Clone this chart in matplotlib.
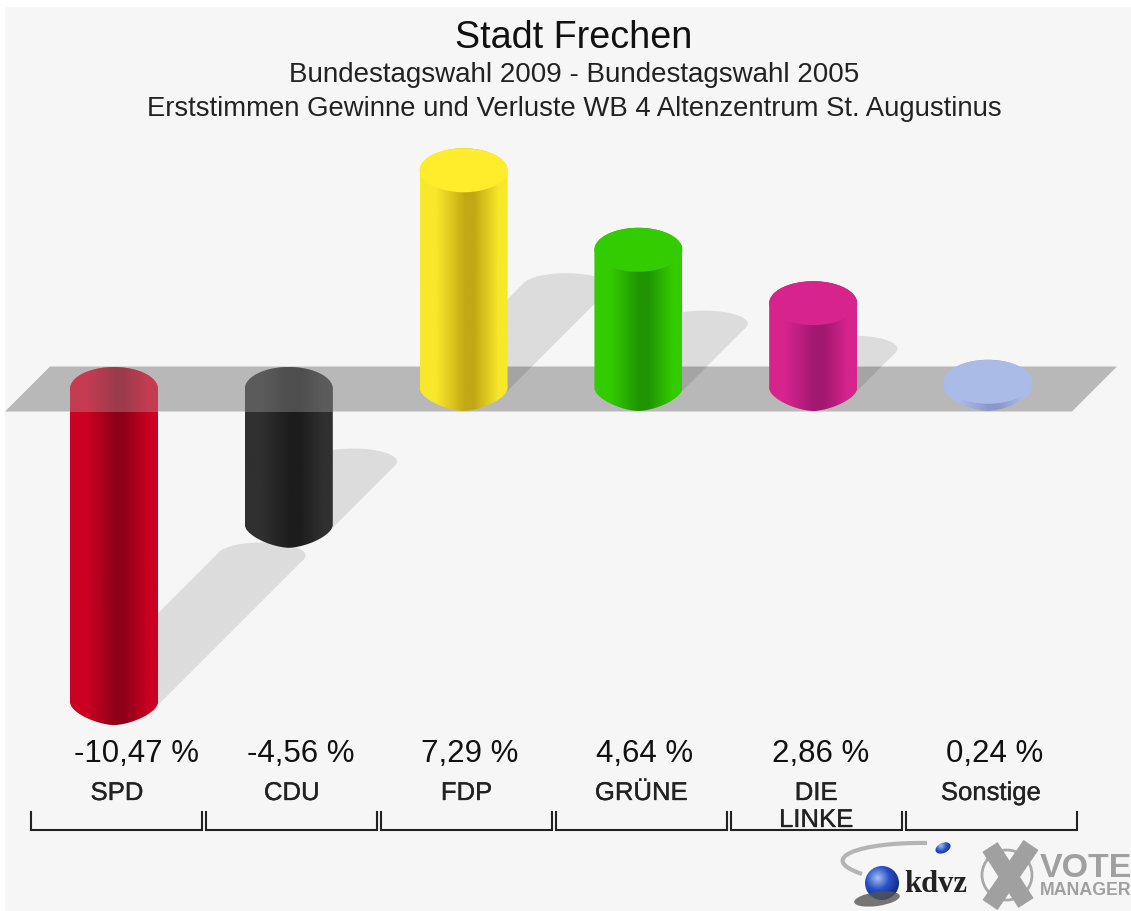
import numpy as np
import matplotlib
matplotlib.use('Agg')
import matplotlib.pyplot as plt
import matplotlib.patheffects as pe
from matplotlib.colors import LinearSegmentedColormap
from matplotlib.patches import Polygon, Rectangle, Ellipse, PathPatch, Circle
from matplotlib.path import Path

plt.rcParams['font.family'] = ['Liberation Sans', 'DejaVu Sans']

parties = ['SPD', 'CDU', 'FDP', 'GRÜNE', 'DIE\nLINKE', 'Sonstige']
changes = [-10.47, -4.56, 7.29, 4.64, 2.86, 0.24]
change_labels = ['-10,47 %', '-4,56 %', '7,29 %', '4,64 %', '2,86 %', '0,24 %']
light = ['#cc0022', '#303030', '#f8e82a', '#33cc00', '#d6248c', '#aabbe8']
dark = ['#8e0018', '#1c1c1c', '#c2a814', '#1f9400', '#a01870', '#8a98c8']
cap = ['#cc0022', '#303030', '#ffec2a', '#33cc00', '#d6248c', '#aabbe8']

title = 'Stadt Frechen'
subtitle1 = 'Bundestagswahl 2009 - Bundestagswahl 2005'
subtitle2 = 'Erststimmen Gewinne und Verluste WB 4 Altenzentrum St. Augustinus'

W, H = 1131, 911
PX_X = 174.8    # pixels per category
PX_Y = 30.0     # pixels per percent point
X0, Y0 = 114.0, 389.0
BAR_W = 44 / PX_X
BAR_H = 22 / PX_Y
SKEW = 0.47     # shadow shift per height
value_shift = [22, 12, 6, 6, 7, 7]


def bar_outline(x, y_top, y_bot, n=60, p=1.6):
    # flat ellipse on top, slightly pointed one below
    t = np.linspace(0, np.pi, n)
    top_x = x + BAR_W * np.cos(t)
    top_y = y_top + BAR_H * np.sin(t)
    u = np.linspace(-1, 1, n)
    bot_x = x + BAR_W * u
    bot_y = y_bot - BAR_H * (1 - np.abs(u) ** p) ** (1 / p)
    return Path(np.column_stack([np.r_[top_x, bot_x], np.r_[top_y, bot_y]]))


def add_shadow(ax, x, y_start, height):
    s = SKEW * height
    dx = s * PX_Y / PX_X
    h = 13 / PX_Y
    col = '#dcdcdc'
    ax.add_patch(Ellipse((x + dx, y_start + s), 2 * BAR_W, 2 * h, fc=col, ec='none', zorder=1))
    # tangent points of a 45 degree sweep
    a, b = 44.0, 13.0
    th = np.arctan2(-b, a)
    ox, oy = np.cos(th) * BAR_W, np.sin(th) * h
    pts = [(x + ox, y_start + oy), (x + ox + dx, y_start + oy + s),
           (x - ox + dx, y_start - oy + s), (x - ox, y_start - oy)]
    ax.add_patch(Polygon(pts, fc=col, ec='none', zorder=1))


fig = plt.figure(figsize=(W / 100, H / 100), dpi=100, facecolor='white')
fig.add_artist(Rectangle((5 / W, 0), 1, 1 - 7 / H, transform=fig.transFigure, fc='#f6f6f6', ec='none', zorder=-5))
ax = fig.add_axes([0, 0, 1, 1], facecolor='none')
ax.set_xlim(-X0 / PX_X, (W - X0) / PX_X)
ax.set_ylim(-(H - Y0) / PX_Y, Y0 / PX_Y)
ax.axis('off')

# shadows, the tiny bar hides its own
for i, v in enumerate(changes):
    if abs(v) > 0.5:
        add_shadow(ax, i, min(v, 0), abs(v))

# floor band
skew_x = 45 / PX_X
band_l = (5 - X0) / PX_X
band_r = (1072 - X0) / PX_X
ax.add_patch(Polygon([(band_l, -22.5 / PX_Y), (band_l + skew_x, 22.5 / PX_Y),
                      (band_r + skew_x, 22.5 / PX_Y), (band_r, -22.5 / PX_Y)],
                     fc='black', alpha=0.25, ec='none', zorder=2))

# cylinders
for i, v in enumerate(changes):
    cmap = LinearSegmentedColormap.from_list('c', [(0, light[i]), (0.18, light[i]), (0.52, dark[i]),
                                                   (0.62, dark[i]), (0.9, light[i]), (1, light[i])])
    outline = bar_outline(i, max(v, 0), min(v, 0))
    im = ax.imshow(np.linspace(0, 1, 128)[None, :], cmap=cmap, aspect='auto', zorder=3,
                   extent=[i - BAR_W, i + BAR_W, min(v, 0) - BAR_H, max(v, 0) + BAR_H])
    patch = PathPatch(outline, fc='none', ec='none', transform=ax.transData)
    ax.add_patch(patch)
    im.set_clip_path(patch)
    if v > 0:
        ax.add_patch(Ellipse((i, v), 2 * BAR_W, 2 * BAR_H, fc=cap[i], ec='none', zorder=4))
    else:
        veil = Rectangle((i - BAR_W, -22.5 / PX_Y), 2 * BAR_W, 45 / PX_Y, fc='#b9b9b9', alpha=0.32,
                         ec='none', zorder=4)
        ax.add_patch(veil)
        veil.set_clip_path(patch)
ax.set_xlim(-X0 / PX_X, (W - X0) / PX_X)
ax.set_ylim(-(H - Y0) / PX_Y, Y0 / PX_Y)

# text, brackets and logo in pixel space
ov = fig.add_axes([0, 0, 1, 1], facecolor='none')
ov.set_xlim(0, W)
ov.set_ylim(H, 0)
ov.axis('off')

ov.text(574, 48, title, ha='center', va='baseline', fontsize=27.2, color='#111111')
ov.text(574, 82, subtitle1, ha='center', va='baseline', fontsize=20, color='#222222')
ov.text(574, 116, subtitle2, ha='center', va='baseline', fontsize=19.85, color='#222222')

thick = [pe.withStroke(linewidth=0.25, foreground='#222222')]
for i in range(len(parties)):
    cx = X0 + i * PX_X
    ov.text(cx + value_shift[i], 762, change_labels[i], ha='center', va='baseline',
            fontsize=22.5, color='#111111')
    lines = parties[i].split('\n')
    ov.text(cx + 3, 800, lines[0], ha='center', va='baseline', fontsize=18.5, color='#222222', path_effects=thick)
    if len(lines) > 1:
        ov.text(cx + 3, 827, lines[1], ha='center', va='baseline', fontsize=18.5, color='#222222', path_effects=thick)
    left = 31 + i * 174.9
    ov.plot([left, left, left + 171, left + 171], [812, 830, 830, 812], color='#222222', lw=1.5,
            solid_joinstyle='miter', zorder=5)

# logo
swoosh = Path([(927, 843), (860, 842), (815, 858), (862, 874)], [Path.MOVETO, Path.CURVE4, Path.CURVE4, Path.CURVE4])
ov.add_patch(PathPatch(swoosh, fc='none', ec='#b4b4b4', lw=3))
ov.add_patch(Ellipse((877, 899), 46, 14, angle=-8, fc='#555555', ec='none', alpha=0.8))
sphere = LinearSegmentedColormap.from_list('s', ['#a8c0f0', '#2850c8', '#102878'])
yy, xx = np.mgrid[-1:1:64j, -1:1:64j]
rr = np.hypot(xx + 0.25, yy + 0.3)
for cx, cy, r in [(882, 883, 17), (943, 848, 8)]:
    im = ov.imshow(rr, cmap=sphere, extent=[cx - r, cx + r, cy + r, cy - r], aspect='auto', vmin=0, vmax=1.4)
    c = Ellipse((cx, cy), 2 * r, 2 * r if r > 10 else 10, angle=0 if r > 10 else -25, transform=ov.transData,
                fc='none', ec='none')
    ov.add_patch(c)
    im.set_clip_path(c)
ov.set_xlim(0, W)
ov.set_ylim(H, 0)
ov.text(936, 892, 'kdvz', ha='center', va='baseline', fontsize=22, fontweight='bold', family='Liberation Serif',
        color='#222222')
ov.add_patch(Circle((1007, 875), 25, fc='none', ec='#a8a8a8', lw=2))
ov.plot([990, 1026], [847, 903], color='#a0a0a0', lw=13, solid_capstyle='butt')
ov.plot([1031, 990], [845, 905], color='#a0a0a0', lw=13, solid_capstyle='butt')
ov.text(1040, 877, 'VOTE', ha='left', va='baseline', fontsize=24.5, fontweight='bold', color='#a0a0a0')
ov.text(1040, 895, 'MANAGER', ha='left', va='baseline', fontsize=12.8, fontweight='bold', color='#a0a0a0')

fig.savefig('out.png', dpi=100, facecolor=fig.get_facecolor())
